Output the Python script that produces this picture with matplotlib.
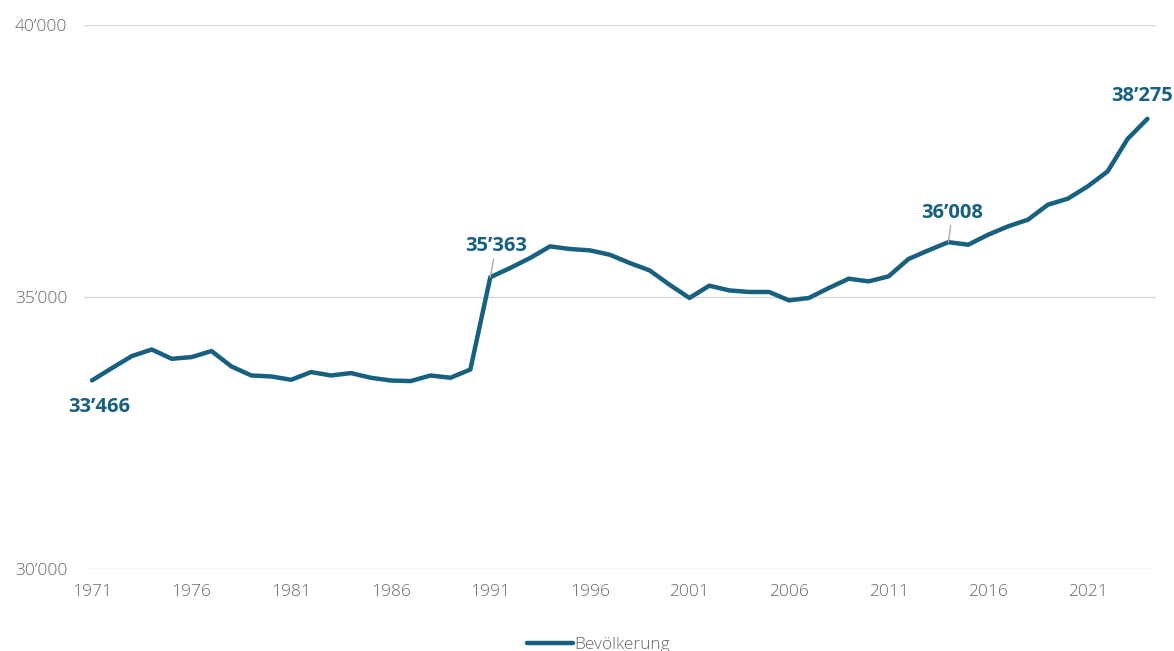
import matplotlib
matplotlib.use("Agg")
import matplotlib.pyplot as plt
from matplotlib.ticker import FuncFormatter

plt.rcParams['font.family'] = ['Open Sans', 'DejaVu Sans']

years = list(range(1971, 2025))
population = [33466, 33693, 33914, 34035, 33864, 33895, 34006, 33723, 33557, 33539,
              33478, 33620, 33557, 33601, 33515, 33465, 33454, 33557, 33515, 33667,
              35363, 35533, 35717, 35930, 35882, 35857, 35777, 35625, 35489, 35226,
              34982, 35208, 35121, 35092, 35092, 34938, 34982, 35165, 35336, 35287,
              35379, 35698, 35857, 36008, 35961, 36145, 36298, 36421, 36696, 36807,
              37033, 37308, 37904, 38275]
series_name = "Bevölkerung"
yticks = [30000, 35000, 40000]
xticks = list(range(1971, 2022, 5))

color = '#17607f'
grey = '#666666'

def fmt(v, pos=None):
    return f"{int(v):,}".replace(",", "\u2019")

fig = plt.figure(figsize=(11.74, 6.51), dpi=100)
ax = fig.add_axes([0.0716, 0.126, 0.9134, 0.8356])
ax.plot(years, population, color=color, lw=3.2, solid_capstyle='round',
        solid_joinstyle='round', label=series_name, zorder=3)
ax.set_xlim(1970.6, 2024.45)
ax.set_ylim(30000, 40000)
ax.set_yticks(yticks)
ax.set_xticks(xticks)
ax.yaxis.set_major_formatter(FuncFormatter(fmt))
ax.grid(axis='y', color='#d9d9d9', lw=1)
ax.set_axisbelow(True)
for s in ax.spines.values():
    s.set_visible(False)
ax.tick_params(axis='both', length=0, colors=grey, labelsize=12.5)
ax.tick_params(axis='y', pad=12)
ax.tick_params(axis='x', pad=11)
for lab in ax.get_xticklabels() + ax.get_yticklabels():
    lab.set_fontweight('light')

kw = dict(color=color, fontsize=14.5, fontweight='bold')
v = dict(zip(years, population))
ax.annotate(fmt(v[1971]), (1971, v[1971]), xytext=(5, -12), textcoords='offset points',
            ha='center', va='top', **kw)
ax.annotate(fmt(v[1991]), (1991, v[1991]), xytext=(4, 15), textcoords='offset points',
            ha='center', va='bottom', **kw,
            arrowprops=dict(arrowstyle='-', color='#aaaaaa', lw=1, shrinkA=0, shrinkB=0))
ax.annotate(fmt(v[2014]), (2014, v[2014]), xytext=(3, 14), textcoords='offset points',
            ha='center', va='bottom', **kw,
            arrowprops=dict(arrowstyle='-', color='#aaaaaa', lw=1, shrinkA=0, shrinkB=0))
ax.annotate(fmt(v[2024]), (2024, v[2024]), xytext=(-4, 9), textcoords='offset points',
            ha='center', va='bottom', **kw)

leg = ax.legend(loc='center', bbox_to_anchor=(0.48, -0.14), frameon=False,
                prop=dict(size=12.5, weight='light'), handlelength=2.6,
                handletextpad=0.1, borderaxespad=0)
for t in leg.get_texts():
    t.set_color(grey)

fig.savefig("out.png", dpi=100)
